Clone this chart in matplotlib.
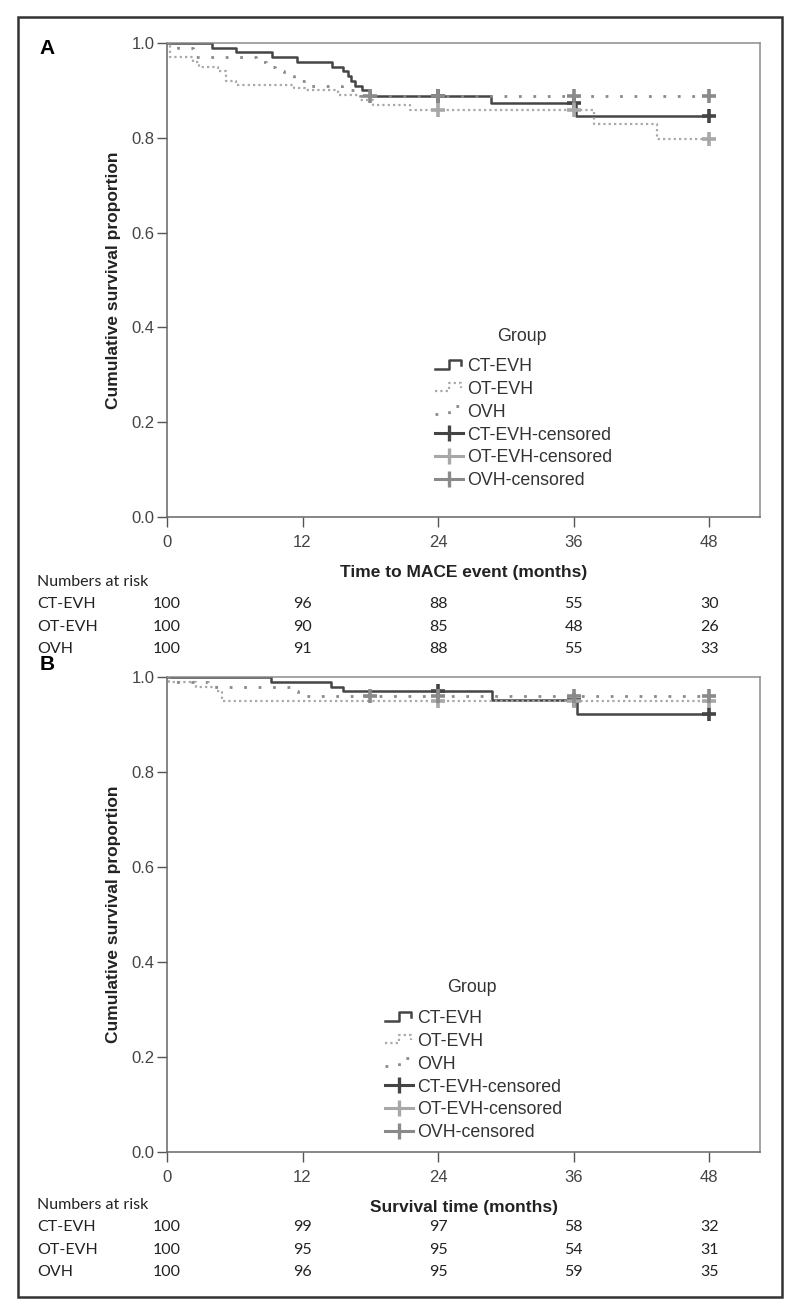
"""Kaplan-Meier curves (MACE-free and overall survival) for three harvesting groups,
with numbers at risk under each panel."""

import matplotlib
matplotlib.use('Agg')
import matplotlib.pyplot as plt
import numpy as np
from matplotlib.legend_handler import HandlerBase
from matplotlib.lines import Line2D
from matplotlib.patches import Rectangle
from matplotlib.transforms import blended_transform_factory

plt.rcParams['font.family'] = ['Liberation Sans', 'DejaVu Sans']

# Global Variables
groups = ['CT-EVH', 'OT-EVH', 'OVH']
risk_months = [0, 12, 24, 36, 48]
end_month = 48

# Panel A: time to MACE event (step times in months, survival after each step)
a_ct_t = [0, 4.0, 6.1, 9.3, 11.5, 14.6, 15.6, 16.0, 16.3, 16.6, 17.3, 18.0, 28.7, 36.2]
a_ct_s = [1.0, 0.99, 0.98, 0.97, 0.96, 0.95, 0.94, 0.93, 0.92, 0.91, 0.90, 0.889, 0.874, 0.845]
a_ot_t = [0, 0.3, 2.3, 2.8, 4.5, 5.2, 6.1, 11.2, 12.2, 15.1, 17.1, 18.2, 21.5, 37.8, 43.4]
a_ot_s = [1.0, 0.97, 0.96, 0.95, 0.94, 0.92, 0.912, 0.905, 0.90, 0.89, 0.88, 0.869, 0.859, 0.829, 0.798]
a_ov_t = [0, 1.0, 2.3, 7.9, 8.8, 9.6, 10.4, 11.2, 12.4, 15.5, 17.2]
a_ov_s = [1.0, 0.99, 0.97, 0.96, 0.95, 0.94, 0.93, 0.92, 0.91, 0.90, 0.889]
a_cens_t = [[24, 36, 48], [24, 36, 48], [18, 24, 36, 48]]
a_cens_s = [[0.889, 0.874, 0.845], [0.859, 0.859, 0.798], [0.889, 0.889, 0.889, 0.889]]
a_risk = [[100, 96, 88, 55, 30], [100, 90, 85, 48, 26], [100, 91, 88, 55, 33]]

# Panel B: survival time
b_ct_t = [0, 9.2, 14.5, 15.6, 28.8, 36.3]
b_ct_s = [1.0, 0.99, 0.98, 0.97, 0.952, 0.923]
b_ot_t = [0, 0.2, 2.6, 4.4, 4.9]
b_ot_s = [1.0, 0.99, 0.98, 0.97, 0.949]
b_ov_t = [0, 0.5, 3.6, 11.0, 11.6]
b_ov_s = [1.0, 0.99, 0.98, 0.97, 0.959]
b_cens_t = [[24, 36, 48], [24, 36, 48], [18, 24, 36, 48]]
b_cens_s = [[0.97, 0.952, 0.923], [0.949, 0.949, 0.949], [0.959, 0.959, 0.959, 0.959]]
b_risk = [[100, 99, 97, 58, 32], [100, 95, 95, 54, 31], [100, 96, 95, 59, 35]]

W, H = 800, 1315

# line styles per group: colour, width, dashes
styles = [
    dict(color='#454545', lw=1.8, ls='-'),
    dict(color='#a8a8a8', lw=1.6, ls=(0, (1, 1.4))),
    dict(color='#8a8a8a', lw=2.0, ls=(0, (1, 4.2))),
]
cens_colors = ['#444444', '#a8a8a8', '#8a8a8a']


def fy(y):
    return 1 - y / H


class StepHandler(HandlerBase):
    def create_artists(self, legend, orig_handle, xdescent, ydescent, width, height, fontsize, trans):
        xs = np.array([0, 0.5, 0.5, 0.95, 0.95]) * width - xdescent
        ys = np.array([0.2, 0.2, 0.85, 0.85, 0.5]) * height - ydescent
        line = Line2D(xs, ys)
        line.update_from(orig_handle)
        line.set_transform(trans)
        return [line]


def draw_panel(fig, top_px, bot_px, curves, cens_t, cens_s, risk, xlabel, letter, letter_y,
               leg_xy, title_xy, risk_ys):
    hgt = bot_px - top_px
    ax = fig.add_axes([167 / W, fy(bot_px), 593 / W, hgt / H])
    for (t, s), st in zip(curves, styles):
        t = np.append(t, end_month)
        s = np.append(s, s[-1])
        ax.step(t, s, where='post', color=st['color'], lw=st['lw'], ls=st['ls'])
    for ct, cs, c in zip(cens_t, cens_s, cens_colors):
        ax.plot(ct, cs, ls='none', marker='+', ms=10, mew=2.6, color=c)

    ax.set_xlim(0, 52.5)
    ax.set_ylim(0, 1.0)
    ax.set_xticks(risk_months)
    ax.set_yticks(np.arange(0, 1.01, 0.2))
    ax.set_yticklabels(['%.1f' % v for v in np.arange(0, 1.01, 0.2)])
    ax.tick_params(direction='out', length=7, width=1, colors='#555555', labelsize=12,
                   labelcolor='#444444')
    ax.tick_params(axis='x', pad=6)
    ax.tick_params(axis='y', pad=2)
    for sp in ax.spines.values():
        sp.set_color('#666666')
        sp.set_linewidth(1.1)
    ax.spines['top'].set_color('#8c8c8c')
    ax.spines['right'].set_color('#8c8c8c')

    ax.set_ylabel('Cumulative survival proportion', fontsize=12.5, fontweight='bold', color='#222222')
    ax.yaxis.set_label_coords((121 - 167) / 593, 0.5)
    ax.set_xlabel(xlabel, fontsize=12.5, fontweight='bold', color='#222222')
    ax.xaxis.set_label_coords(0.5, -48 / hgt)

    handles = [Line2D([], [], **st) for st in styles]
    handles += [Line2D([], [], color=c, lw=2.2, marker='|', ms=11, mew=2.4) for c in cens_colors]
    labels = groups + [g + '-censored' for g in groups]
    hmap = {h: StepHandler() for h in handles[:3]}
    leg = ax.legend(handles, labels, loc='upper left',
                    bbox_to_anchor=((leg_xy[0] - 167) / 593, (bot_px - leg_xy[1]) / hgt),
                    frameon=False, fontsize=12.8, handlelength=1.55,
                    handletextpad=0.25, labelspacing=0.33, borderpad=0, borderaxespad=0,
                    numpoints=1, handler_map=hmap)
    for txt in leg.get_texts():
        txt.set_color('#333333')
    fig.text(title_xy[0] / W, fy(title_xy[1]), 'Group', fontsize=12.8, color='#333333',
             ha='center', va='center')

    fig.text(47 / W, fy(letter_y), letter, fontsize=15, fontweight='bold', ha='center', va='center')

    # numbers at risk
    tf = blended_transform_factory(ax.transData, fig.transFigure)
    fig.text(37 / W, fy(risk_ys[0]), 'Numbers at risk', family='Lato', fontsize=11.5,
             va='center', color='#222222')
    for g, row, y in zip(groups, risk, risk_ys[1:]):
        fig.text(37 / W, fy(y), g, family='Lato', fontsize=11.5, va='center', color='#222222')
        for m, n in zip(risk_months, row):
            ax.text(m, fy(y), str(n), transform=tf, family='Lato', fontsize=11.5,
                    ha='center', va='center', color='#222222')
    return ax


def main():
    fig = plt.figure(figsize=(W / 100, H / 100), dpi=100)

    draw_panel(fig, 43, 517,
               [(a_ct_t, a_ct_s), (a_ot_t, a_ot_s), (a_ov_t, a_ov_s)],
               a_cens_t, a_cens_s, a_risk, 'Time to MACE event (months)', 'A', 48,
               (435, 358), (522, 337), [582, 604, 627, 649])
    draw_panel(fig, 677, 1152,
               [(b_ct_t, b_ct_s), (b_ot_t, b_ot_s), (b_ov_t, b_ov_s)],
               b_cens_t, b_cens_s, b_risk, 'Survival time (months)', 'B', 665,
               (385, 1010), (472, 988), [1205, 1227, 1250, 1272])

    frame = Rectangle((18 / W, fy(1297)), 764 / W, 1280 / H, transform=fig.transFigure,
                      fill=False, edgecolor='#333333', lw=1.8)
    fig.patches.append(frame)

    fig.savefig('out.png', dpi=100)


if __name__ == "__main__":
    main()
